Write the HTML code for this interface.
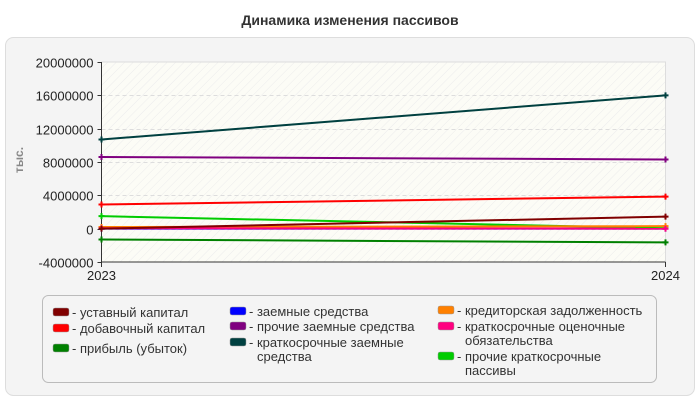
<!DOCTYPE html>
<html><head><meta charset="utf-8"><style>
body{margin:0;background:#fff;font-family:"Liberation Sans",sans-serif;}
svg text{font-family:"Liberation Sans",sans-serif;}
</style></head><body>
<svg id="chart" width="700" height="400" xmlns="http://www.w3.org/2000/svg">
<defs>
<pattern id="hatch" width="6" height="6" patternUnits="userSpaceOnUse" patternTransform="rotate(45)">
<rect width="6" height="6" fill="#fcfcf6"/><line x1="0" y1="0" x2="0" y2="6" stroke="#ececec" stroke-width="1"/>
</pattern>
</defs>
<text x="350" y="25" text-anchor="middle" font-size="14" font-weight="bold" fill="#333">Динамика изменения пассивов</text>
<rect x="5.5" y="37.5" width="689" height="358" rx="8" fill="#f4f4f4" stroke="#ddd"/>
<rect x="101.5" y="62" width="564" height="200" fill="url(#hatch)" stroke="#ddd"/>
<g id="grid"></g>
<g id="axes"></g>
<g id="series"></g>
<text transform="translate(23,160) rotate(-90)" text-anchor="middle" font-size="12" font-weight="bold" fill="#888">тыс.</text>
<rect x="42.5" y="295.5" width="614" height="87" rx="6" fill="#f4f4f4" stroke="#bbb"/>
<g id="legend" font-size="13" fill="#333"></g>
</svg>
<script>
const years = ["2023", "2024"];
const yTicks = [-4000000, 0, 4000000, 8000000, 12000000, 16000000, 20000000];
const names = ["уставный капитал","добавочный капитал","прибыль (убыток)","заемные средства","прочие заемные средства","краткосрочные заемные средства","кредиторская задолженность","краткосрочные оценочные обязательства","прочие краткосрочные пассивы"];
const colors = ["#800000","#ff0000","#008000","#0000ff","#800080","#004040","#ff8000","#ff0080","#00cc00"];
const ustavny = [0, 1450000];
const dobavochny = [2900000, 3850000];
const pribyl = [-1300000, -1650000];
const zaemnye = [0, 0];
const prochieZaemnye = [8600000, 8300000];
const kratkZaemnye = [10700000, 16000000];
const kreditorskaya = [200000, 300000];
const ocenochnye = [50000, 0];
const prochieKratk = [1500000, 50000];
const seriesData = [ustavny, dobavochny, pribyl, zaemnye, prochieZaemnye, kratkZaemnye, kreditorskaya, ocenochnye, prochieKratk];
const drawOrder = [3,8,6,7,2,0,1,4,5];
const NS="http://www.w3.org/2000/svg";
const x0=101.5,x1=665.5,yTop=62,yBot=262,vMin=-4000000,vMax=20000000;
const xs=i=>x0+(x1-x0)*i/(years.length-1);
const ys=v=>yBot-(v-vMin)/(vMax-vMin)*(yBot-yTop);
function mk(t,a,p){const e=document.createElementNS(NS,t);for(const k in a)e.setAttribute(k,a[k]);p.appendChild(e);return e;}
const grid=document.getElementById('grid'),axes=document.getElementById('axes'),ser=document.getElementById('series'),leg=document.getElementById('legend');
yTicks.forEach(v=>{
  const y=Math.round(ys(v))+0.5;
  if(v!==vMin&&v!==vMax){const g=mk('line',{x1:x0,x2:x1,y1:y,y2:y,stroke:'#ddd','stroke-dasharray':'4,3'},grid);
  
  }
  const tk=mk('line',{x1:x0-4,x2:x0,y1:y,y2:y,stroke:'#333'},axes);
  
  
  const t=mk('text',{x:x0-8,y:y+5,'text-anchor':'end','font-size':13,fill:'#222'},axes);t.textContent=v;
  
  
});
const ya=mk('line',{x1:x0,x2:x0,y1:yTop,y2:yBot,stroke:'#333'},axes);


const xa=mk('line',{x1:x0,x2:x1,y1:yBot,y2:yBot,stroke:'#333'},axes);


years.forEach((yr,i)=>{
  const x=xs(i);
  const tk=mk('line',{x1:x,x2:x,y1:yBot,y2:yBot+5,stroke:'#333'},axes);
  
  
  const t=mk('text',{x:x,y:yBot+18,'text-anchor':'middle','font-size':13,fill:'#222'},axes);t.textContent=yr;
  
  
});
drawOrder.forEach(si=>{
  const d=seriesData[si];
  const pts=d.map((v,i)=>xs(i)+','+ys(v)).join(' ');
  const pl=mk('polyline',{points:pts,fill:'none',stroke:colors[si],'stroke-width':2},ser);
  
  
  d.forEach((v,i)=>{
    const x=xs(i),y=ys(v);
    const m=mk('path',{d:`M${x-3},${y}H${x+3}M${x},${y-3}V${y+3}`,stroke:colors[si],'stroke-width':2},ser);
    
    
  });
});
const legendItems=[
 [53,312,[names[0]]],[53,328,[names[1]]],[53,348,[names[2]]],
 [230,311,[names[3]]],[230,326,[names[4]]],[230,342,["краткосрочные заемные","средства"]],
 [438,310,["кредиторская задолженность"]],[438,326,["краткосрочные оценочные","обязательства"]],[438,356,["прочие краткосрочные","пассивы"]]
];
legendItems.forEach((it,i)=>{
  const [x,y,lines]=it;
  const g=mk('g',{},leg);
  
  
  mk('rect',{x:x,y:y-4,width:16,height:8,rx:2,fill:colors[i],stroke:'#999','stroke-width':0.5},g);
  lines.forEach((l,j)=>{const t=mk('text',{x:x+19,y:y+5+j*14,'font-size':13,fill:'#333'},g);t.textContent=(j===0?'- ':'')+l;if(j>0)t.setAttribute('x',x+27);});
});
</script>
</body></html>
